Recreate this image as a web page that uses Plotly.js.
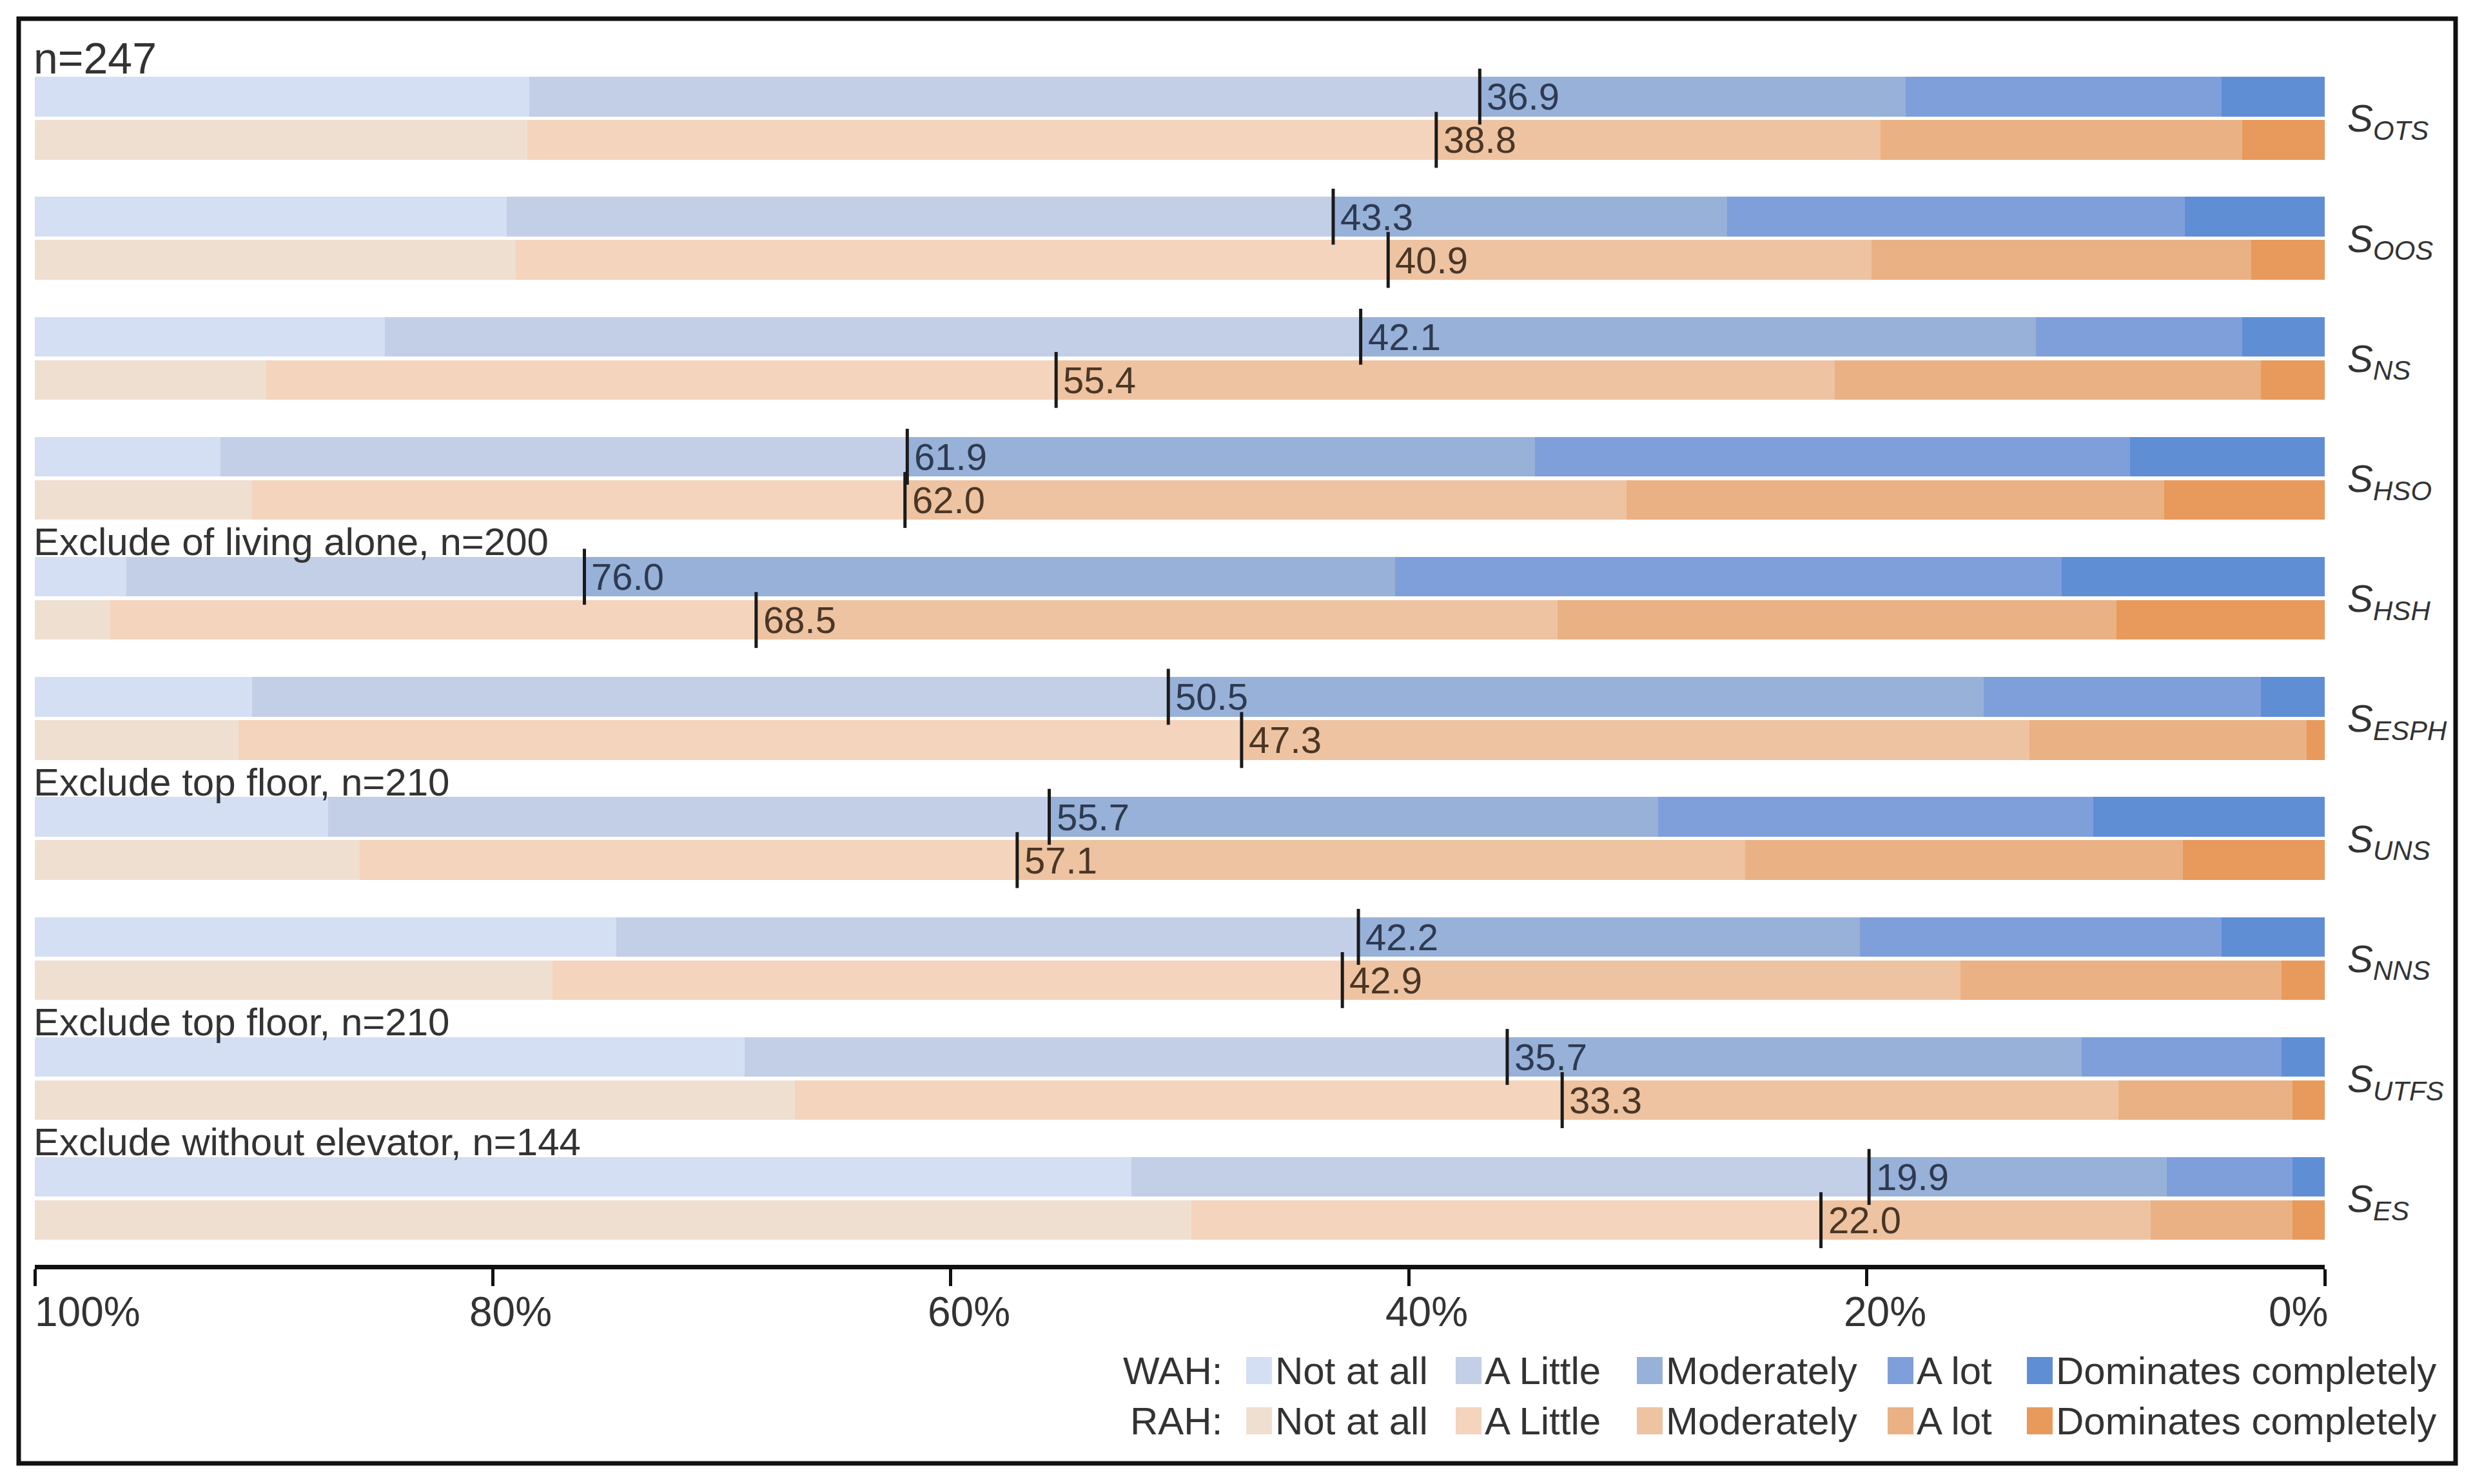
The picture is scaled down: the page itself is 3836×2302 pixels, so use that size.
<!DOCTYPE html>
<html>
<head>
<meta charset="utf-8">
<script src="https://cdn.plot.ly/plotly-3.0.1.min.js"></script>
<style>
  html, body { margin: 0; padding: 0; background: #ffffff; }
  #chart { width: 3836px; height: 2302px; }
</style>
</head>
<body>
<div id="chart"></div>
<script>
// ---------------- DATA ----------------
const categories = ['OTS', 'OOS', 'NS', 'HSO', 'HSH', 'ESPH', 'UNS', 'NNS', 'UTFS', 'ES'];
const levels = ['Not at all', 'A Little', 'Moderately', 'A lot', 'Dominates completely'];

// WAH (%)
const wahNotAtAll   = [21.6, 20.6, 15.3,  8.1,  4.0,  9.5, 12.8, 25.4, 31.0, 47.9];
const wahALittle    = [41.5, 36.1, 42.6, 30.0, 20.0, 40.0, 31.5, 32.4, 33.3, 32.2];
const wahModerately = [18.6, 17.2, 29.5, 27.4, 35.4, 35.6, 26.6, 21.9, 25.1, 13.0];
const wahALot       = [13.8, 20.0,  9.0, 26.0, 29.1, 12.1, 19.0, 15.8,  8.7,  5.5];
const wahDominates  = [ 4.5,  6.1,  3.6,  8.5, 11.5,  2.8, 10.1,  4.5,  1.9,  1.4];
const wahScore      = [36.9, 43.3, 42.1, 61.9, 76.0, 50.5, 55.7, 42.2, 35.7, 19.9];

// RAH (%)
const rahNotAtAll   = [21.5, 21.0, 10.1,  9.5,  3.3,  8.9, 14.2, 22.6, 33.2, 50.5];
const rahALittle    = [39.7, 38.1, 34.5, 28.5, 28.2, 43.8, 28.7, 34.5, 33.5, 27.5];
const rahModerately = [19.4, 21.1, 34.0, 31.5, 35.0, 34.4, 31.8, 27.0, 24.3, 14.4];
const rahALot       = [15.8, 16.6, 18.6, 23.5, 24.4, 12.1, 19.1, 14.0,  7.6,  6.2];
const rahDominates  = [ 3.6,  3.2,  2.8,  7.0,  9.1,  0.8,  6.2,  1.9,  1.4,  1.4];
const rahScore      = [38.8, 40.9, 55.4, 62.0, 68.5, 47.3, 57.1, 42.9, 33.3, 22.0];

const xTickVals  = [100, 80, 60, 40, 20, 0];
const xTickTexts = ['100%', '80%', '60%', '40%', '20%', '0%'];

const noteGroups = [0, 4, 6, 8, 9];
const noteTexts  = ['n=247', 'Exclude of living alone, n=200', 'Exclude top floor, n=210',
                    'Exclude top floor, n=210', 'Exclude without elevator, n=144'];

// ---------------- STYLE ----------------
const wahColors = ['#d4dff3', '#c3cfe6', '#98b1d8', '#7f9fdb', '#5f8ed5'];
const rahColors = ['#efdfd1', '#f4d4bc', '#eec3a1', '#eab184', '#e79a5c'];
const FONT = 'Liberation Sans, Arial, Helvetica, sans-serif';
const TXT = '#333333';

const W = 3836, H = 2302;
const M = { l: 54, r: 230, t: 100, b: 340 };
const PW = W - M.l - M.r, PH = H - M.t - M.b;
const px = v => (v - M.l) / PW;
const py = v => (H - M.b - v) / PH;

const yRange = [9.552, -0.448];
const yToPaper = v => (yRange[0] - v) / (yRange[0] - yRange[1]);

const offset = 0.18, barW = 0.33;
const idx = categories.map((c, i) => i);
const yW = idx.map(i => i - offset);
const yR = idx.map(i => i + offset);

const wahSeries = [wahNotAtAll, wahALittle, wahModerately, wahALot, wahDominates];
const rahSeries = [rahNotAtAll, rahALittle, rahModerately, rahALot, rahDominates];

const traces = [];
for (let k = levels.length - 1; k >= 0; k--) {
  traces.push({
    type: 'bar', orientation: 'h', name: 'WAH ' + levels[k],
    x: wahSeries[k], y: yW, width: barW,
    marker: { color: wahColors[k], line: { width: 0 } },
    showlegend: false, hoverinfo: 'skip'
  });
  traces.push({
    type: 'bar', orientation: 'h', name: 'RAH ' + levels[k],
    x: rahSeries[k], y: yR, width: barW,
    marker: { color: rahColors[k], line: { width: 0 } },
    showlegend: false, hoverinfo: 'skip'
  });
}
// score markers
traces.push({
  type: 'scatter', mode: 'markers', x: wahScore.concat(rahScore), y: yW.concat(yR),
  marker: { symbol: 'line-ns', size: 62, line: { width: 5, color: '#1a1a1a' } },
  showlegend: false, hoverinfo: 'skip'
});

// ---------------- LAYOUT ----------------
const annotations = [];
const shapes = [];

// score labels
wahScore.forEach((v, i) => {
  annotations.push({
    xref: 'x', yref: 'y', x: v, y: yW[i], xanchor: 'left', yanchor: 'middle', xshift: 9,
    text: v.toFixed(1), showarrow: false,
    font: { family: FONT, size: 58, color: '#2e3a52' }
  });
});
rahScore.forEach((v, i) => {
  annotations.push({
    xref: 'x', yref: 'y', x: v, y: yR[i], xanchor: 'left', yanchor: 'middle', xshift: 9,
    text: v.toFixed(1), showarrow: false,
    font: { family: FONT, size: 58, color: '#4a3626' }
  });
});

// notes above groups
noteGroups.forEach((g, j) => {
  annotations.push({
    xref: 'x', yref: 'paper', x: 100, y: yToPaper(g - (j === 0 ? 0.5 : 0.47)),
    xanchor: 'left', yanchor: 'middle',
    xshift: -4, text: noteTexts[j], showarrow: false,
    font: { family: FONT, size: j === 0 ? 68 : 60, color: TXT }
  });
});

// x tick labels
xTickVals.forEach((v, j) => {
  const first = j === 0, last = j === xTickVals.length - 1;
  annotations.push({
    xref: 'x', yref: 'paper', x: v, y: py(2035), yanchor: 'middle',
    xanchor: first ? 'left' : (last ? 'right' : 'center'),
    xshift: first ? -2 : (last ? 8 : 28),
    text: xTickTexts[j], showarrow: false,
    font: { family: FONT, size: 64, color: TXT }
  });
});

// legend
const legRows = [
  { label: 'WAH:', colors: wahColors, y: 2126 },
  { label: 'RAH:', colors: rahColors, y: 2204 }
];
const legX = [1933, 2258, 2539, 2928, 3144];
legRows.forEach(row => {
  annotations.push({
    xref: 'paper', yref: 'paper', x: px(1898), y: py(row.y), xanchor: 'right', yanchor: 'middle',
    text: row.label, showarrow: false, font: { family: FONT, size: 60, color: TXT }
  });
  levels.forEach((lv, k) => {
    shapes.push({
      type: 'rect', xref: 'paper', yref: 'paper',
      x0: px(legX[k]), x1: px(legX[k] + 40), y0: py(row.y + 21), y1: py(row.y - 21),
      fillcolor: row.colors[k], line: { width: 0 }
    });
    annotations.push({
      xref: 'paper', yref: 'paper', x: px(legX[k] + 43), y: py(row.y), xanchor: 'left', yanchor: 'middle',
      text: lv, showarrow: false, font: { family: FONT, size: 60, color: TXT }
    });
  });
});

// outer frame
shapes.push({
  type: 'rect', xref: 'paper', yref: 'paper',
  x0: px(29), x1: px(3809), y0: py(2270), y1: py(29),
  line: { width: 7, color: '#111111' }, fillcolor: 'rgba(0,0,0,0)', layer: 'above'
});

const layout = {
  width: W, height: H,
  margin: M,
  paper_bgcolor: '#ffffff', plot_bgcolor: '#ffffff',
  barmode: 'stack',
  font: { family: FONT, color: TXT },
  showlegend: false,
  xaxis: {
    range: [100, 0], tickvals: xTickVals, showticklabels: false,
    showgrid: false, zeroline: false,
    showline: true, linewidth: 7, linecolor: '#111111',
    ticks: 'outside', ticklen: 26, tickwidth: 5, tickcolor: '#111111',
    fixedrange: true
  },
  yaxis: {
    range: yRange, side: 'right',
    tickvals: idx, ticktext: categories.map(c => 'S<sub>' + c + '</sub>'),
    tickfont: { family: FONT, size: 60, color: TXT, style: 'italic' },
    ticks: '', ticklabelstandoff: 34,
    showgrid: false, zeroline: false, showline: false, fixedrange: true
  },
  annotations: annotations,
  shapes: shapes,
  hovermode: false
};

Plotly.newPlot('chart', traces, layout, { staticPlot: true, displayModeBar: false });
</script>
</body>
</html>
